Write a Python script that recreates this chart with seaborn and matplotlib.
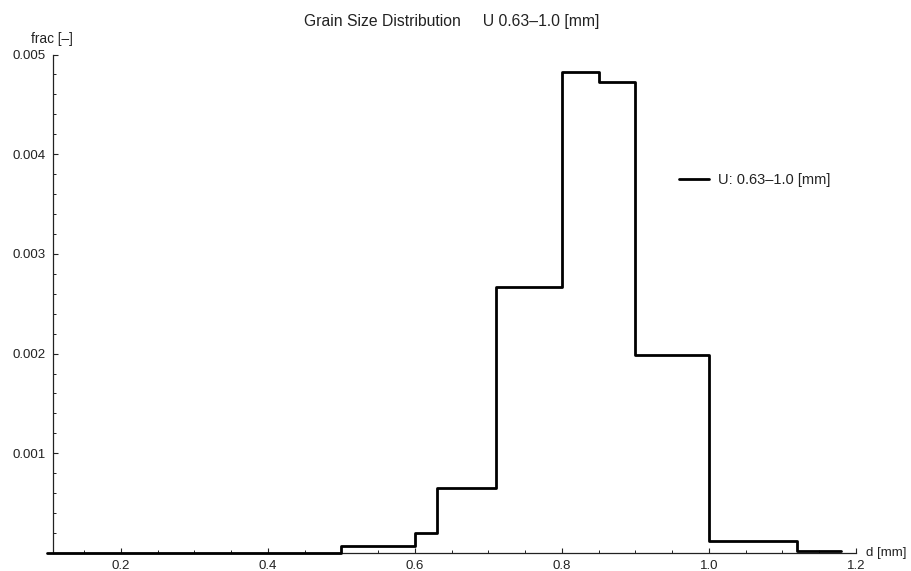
import matplotlib
matplotlib.use("Agg")
import matplotlib.pyplot as plt
from matplotlib.ticker import MultipleLocator, FixedLocator
import seaborn as sns
import pandas as pd

# Sieve class edges [mm] and mass fraction per class
edges = [0.1, 0.5, 0.6, 0.63, 0.71, 0.8, 0.85, 0.9, 1.0, 1.12, 1.18]
frac = [0.0, 0.00007, 0.0002, 0.00065, 0.00267, 0.00482, 0.00472, 0.00199, 0.000125, 0.00002]
x_ticks = [0.2, 0.4, 0.6, 0.8, 1.0, 1.2]
y_ticks = [0.001, 0.002, 0.003, 0.004, 0.005]
series_label = "U: 0.63\u20131.0 [mm]"
title = "Grain Size Distribution     U 0.63\u20131.0 [mm]"

sns.set_theme(style="white")
plt.rcParams["font.family"] = ["Liberation Sans", "DejaVu Sans"]

df = pd.DataFrame({"d": edges, "frac": frac + [frac[-1]]})

fig = plt.figure(figsize=(9.12, 5.71), dpi=100)
ax = fig.add_axes([0.0504, 0.0315, 0.888, 0.873])

sns.lineplot(data=df, x="d", y="frac", ax=ax, drawstyle="steps-post",
             estimator=None, sort=False, color="black", linewidth=2.0,
             label=series_label, clip_on=False, zorder=3)

ax.set_xlim(0.098, 1.2)
ax.set_ylim(0, 0.005)

for s in ["top", "right"]:
    ax.spines[s].set_visible(False)
ax.spines["left"].set_position(("data", 0.107))
ax.spines["left"].set_bounds(0, 0.005)
ax.spines["bottom"].set_bounds(0.107, 1.2)
for s in ["left", "bottom"]:
    ax.spines[s].set_color("#222222")
    ax.spines[s].set_linewidth(0.9)

ax.xaxis.set_major_locator(FixedLocator(x_ticks))
ax.xaxis.set_minor_locator(FixedLocator([v / 100 for v in range(15, 121, 5)
                                         if v % 20 != 0]))
ax.yaxis.set_major_locator(FixedLocator(y_ticks))
ax.yaxis.set_minor_locator(MultipleLocator(0.0002))
ax.set_xticklabels([f"{v:.1f}" for v in x_ticks])
ax.set_yticklabels([f"{v:.3f}" for v in y_ticks])

ax.tick_params(which="major", direction="in", length=3.8, width=0.8,
               color="#222222", labelsize=9.5, labelcolor="#222222", pad=5)
ax.tick_params(which="minor", direction="in", length=2.2, width=0.7,
               color="#222222")
ax.tick_params(axis="x", which="both", bottom=True)
ax.tick_params(axis="y", which="both", left=True)

ax.set_xlabel("")
ax.set_ylabel("")
fig.text(0.0345, 0.932, "frac [\u2013]", fontsize=9.8, color="#222222",
         ha="left", va="center")
fig.text(0.950, 0.031, "d [mm]", fontsize=9.5, color="#222222",
         ha="left", va="center")
fig.text(0.495, 0.963, title, fontsize=11.3, color="#222222",
         ha="center", va="center")

ax.legend(loc="upper left", bbox_to_anchor=(0.765, 0.788), frameon=False,
          fontsize=10.5, handlelength=2.1, handletextpad=0.6,
          labelcolor="#222222")

fig.savefig("out.png", dpi=100, facecolor="white")
